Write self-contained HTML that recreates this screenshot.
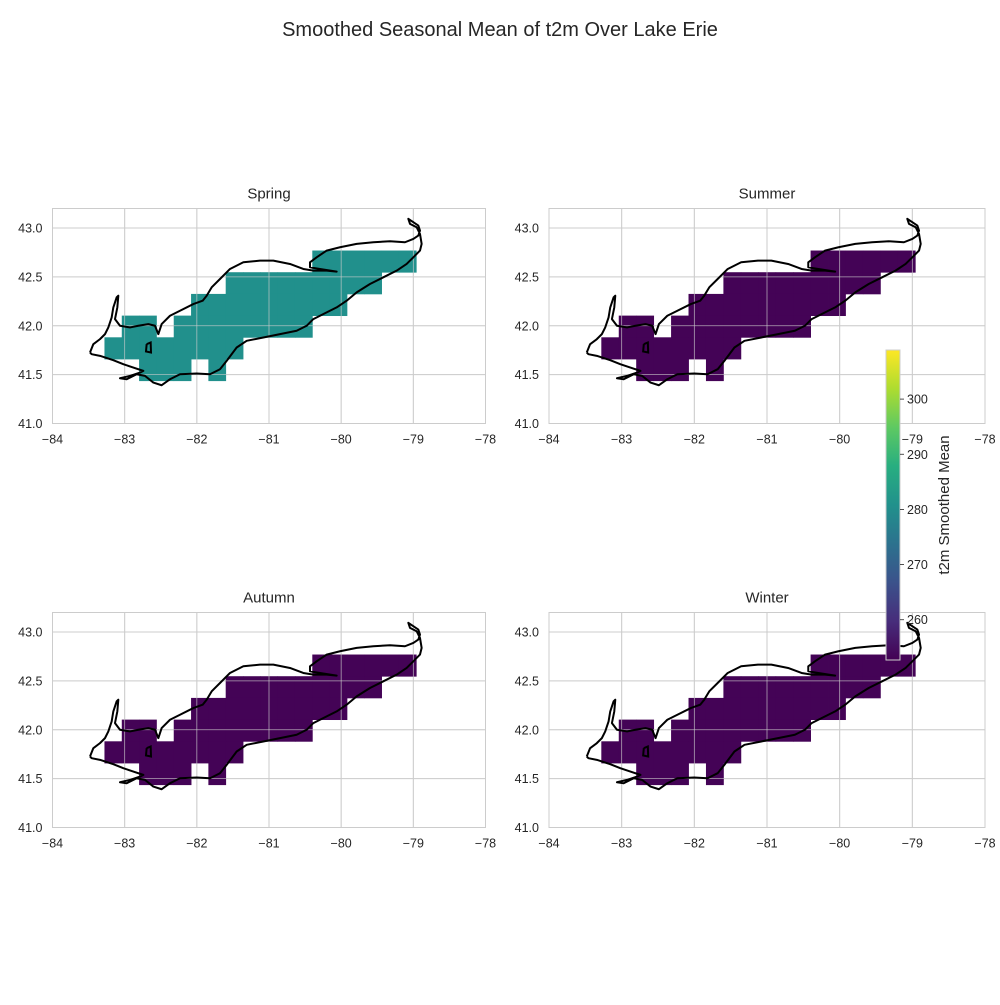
<!DOCTYPE html>
<html><head><meta charset="utf-8"><style>
body{margin:0;background:#fff;width:1000px;height:1000px;overflow:hidden;font-family:"Liberation Sans",sans-serif}
svg text{font-family:"Liberation Sans",sans-serif;fill:#262626}
</style></head><body>
<svg id="fig" width="1000" height="1000" xmlns="http://www.w3.org/2000/svg">
<defs><linearGradient id="vir" x1="0" y1="1" x2="0" y2="0">
<stop offset="0" stop-color="#440154"/><stop offset="0.125" stop-color="#472d7b"/><stop offset="0.25" stop-color="#3b528b"/><stop offset="0.375" stop-color="#2c728e"/><stop offset="0.5" stop-color="#21918c"/><stop offset="0.625" stop-color="#28ae80"/><stop offset="0.75" stop-color="#5ec962"/><stop offset="0.875" stop-color="#addc30"/><stop offset="1" stop-color="#fde725"/></linearGradient></defs>
<text x="500" y="36" text-anchor="middle" font-size="20">Smoothed Seasonal Mean of t2m Over Lake Erie</text>
</svg>
<script>
const seasons=["Spring","Summer","Autumn","Winter"];
const seasonValues=[280.5,253,253,253];
const xTicks=[-84,-83,-82,-81,-80,-79,-78];
const yTicks=[41.0,41.5,42.0,42.5,43.0];
const cbTicks=[260,270,280,290,300];
const cbMin=252.7, cbMax=308.9;
const gridLon0=-83.28, gridLat0=42.77, dLon=0.24, dLat=0.222;
const cellRuns=[[0,12,17],[1,7,15],[2,5,13],[3,1,2],[3,4,11],[4,0,7],[5,2,4],[5,6,6]];
const coastRaw=[[30,455],[40,430],[60,415],[75,400],[85,380],[95,350],[100,320],[110,290],[115,285],[112,320],[105,355],[120,375],[150,380],[175,375],[205,370],[225,375],[235,400],[245,370],[270,345],[300,330],[340,310],[368,300],[380,285],[395,260],[420,235],[450,205],[490,185],[540,180],[580,180],[630,190],[670,205],[700,210],[740,210],[770,213],[720,205],[690,200],[690,185],[710,170],[740,150],[780,140],[830,130],[880,125],[930,122],[975,125],[1000,115],[1015,105],[1020,90],[1015,75],[1000,65],[985,55],[990,70],[1010,80],[1020,100],[1025,130],[1020,150],[1000,170],[980,190],[950,210],[910,230],[870,250],[830,275],[800,300],[770,320],[740,335],[700,355],[680,375],[650,390],[600,400],[550,410],[500,420],[470,440],[440,480],[420,505],[390,520],[350,518],[300,520],[270,535],[245,553],[220,545],[195,525],[170,520],[140,535],[120,532],[150,525],[180,515],[190,510],[160,500],[130,490],[100,478],[60,465],[35,460],[30,455]];
const islandRaw=[[200,430],[212,425],[213,455],[198,452],[200,430]];
const toLL=p=>[-84+(80+p[0]/3-52.5)/72.17, 43.2-(200+p[1]/3-208)/97.5];
const coast=coastRaw.map(toLL), island=islandRaw.map(toLL);
const panels=[{x:52.5,y:208.5,w:433},{x:549,y:208.5,w:436},{x:52.5,y:612.5,w:433},{x:549,y:612.5,w:436}];
const H=215,lonMin=-84,lonMax=-78,latMin=41,latMax=43.2;
const NS="http://www.w3.org/2000/svg",fig=document.getElementById('fig');
function mk(t,a,p){const e=document.createElementNS(NS,t);for(const k in a)e.setAttribute(k,a[k]);(p||fig).appendChild(e);return e;}
function vir(v){const t=Math.max(0,Math.min(1,(v-cbMin)/(cbMax-cbMin)));const c=[[68,1,84],[71,45,123],[59,82,139],[44,114,142],[33,145,140],[40,174,128],[94,201,98],[173,220,48],[253,231,37]];const f=t*8,i=Math.min(7,Math.floor(f)),r=f-i;return 'rgb('+c[i].map((x,j)=>Math.round(x+(c[i+1][j]-x)*r)).join(',')+')';}
seasons.forEach((s,k)=>{
 const P=panels[k],W=P.w;
 const sx=l=>P.x+(l-lonMin)/(lonMax-lonMin)*W, sy=l=>P.y+(latMax-l)/(latMax-latMin)*H;
 const g=mk('g',{});
 
 
 xTicks.forEach(t=>{mk('line',{x1:sx(t),x2:sx(t),y1:P.y,y2:P.y+H,stroke:'#cccccc','stroke-width':1},g);
  const tx=mk('text',{x:sx(t),y:P.y+H+20,'text-anchor':'middle','font-size':12.5},g);tx.textContent='\u2212'+Math.abs(t);
  });
 yTicks.forEach(t=>{mk('line',{x1:P.x,x2:P.x+W,y1:sy(t),y2:sy(t),stroke:'#cccccc','stroke-width':1},g);
  const tx=mk('text',{x:P.x-10,y:sy(t)+4.5,'text-anchor':'end','font-size':12.5},g);tx.textContent=t.toFixed(1);
  });
 const col=vir(seasonValues[k]);
 cellRuns.forEach(r=>{for(let c=r[1];c<=r[2];c++){const lo=gridLon0+c*dLon,la=gridLat0-r[0]*dLat;
  const x0=sx(lo),x1=sx(lo+dLon),y0=sy(la),y1=sy(la-dLat);
  const rc=mk('rect',{x:x0,y:y0,width:x1-x0+0.4,height:y1-y0+0.4,fill:col},g);
  }});
 xTicks.forEach(t=>mk('line',{x1:sx(t),x2:sx(t),y1:P.y,y2:P.y+H,stroke:'#cccccc','stroke-width':0.8,opacity:0.8},g));
 yTicks.forEach(t=>mk('line',{x1:P.x,x2:P.x+W,y1:sy(t),y2:sy(t),stroke:'#cccccc','stroke-width':0.8,opacity:0.8},g));
 const cl=mk('polyline',{points:coast.map(p=>sx(p[0])+','+sy(p[1])).join(' '),fill:'none',stroke:'#000','stroke-width':2,'stroke-linejoin':'round'},g);
 
 mk('polyline',{points:island.map(p=>sx(p[0])+','+sy(p[1])).join(' '),fill:'none',stroke:'#000','stroke-width':2},g);
 mk('rect',{x:P.x,y:P.y,width:W,height:H,fill:'none',stroke:'#cccccc','stroke-width':1},g);
 const tt=mk('text',{x:P.x+W/2,y:P.y-10,'text-anchor':'middle','font-size':15},g);tt.textContent=s;
 
});
const cb=mk('g',{});


const cbX=886,cbY=350,cbW=14,cbH=310;
mk('rect',{x:cbX,y:cbY,width:cbW,height:cbH,fill:'url(#vir)',stroke:'#cccccc','stroke-width':1},cb);
cbTicks.forEach(t=>{const y=cbY+cbH*(cbMax-t)/(cbMax-cbMin);
 mk('line',{x1:cbX+cbW,x2:cbX+cbW+4,y1:y,y2:y,stroke:'#262626','stroke-width':0.8},cb);
 const tx=mk('text',{x:cbX+cbW+7,y:y+4.5,'font-size':12.5},cb);tx.textContent=t;
 });
const cl=mk('text',{x:949,y:505,'text-anchor':'middle','font-size':15,transform:'rotate(-90 949 505)'},cb);cl.textContent='t2m Smoothed Mean';

</script>
</body></html>
